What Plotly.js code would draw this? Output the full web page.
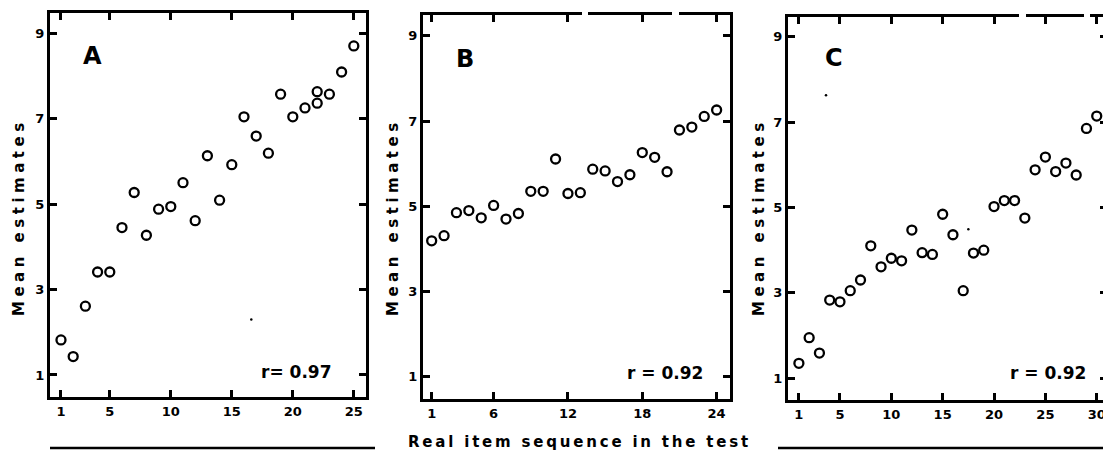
<!DOCTYPE html>
<html>
<head>
<meta charset="utf-8">
<script src="https://cdn.plot.ly/plotly-3.0.1.min.js"></script>
<style>
  html, body { margin:0; padding:0; background:#fff; overflow:hidden; }
  #wrap { width:1103px; height:459px; overflow:hidden; }
  #plot { width:1115px; height:459px; }
  text[data-unformatted="Mean estimates"] { letter-spacing:4.5px; }
  text[data-unformatted="Real item sequence in the test"] { letter-spacing:2.8px; }
</style>
</head>
<body>
<div id="wrap"><div id="plot"></div></div>
<script>
// ---- data ----
const xA = [1,2,3,4,5,6,7,8,9,10,11,12,13,14,15,16,17,18,19,20,21,22,22,23,24,25];
const yA = [1.82,1.43,2.61,3.41,3.41,4.45,5.27,4.27,4.88,4.94,5.50,4.61,6.13,5.09,5.92,7.04,6.59,6.19,7.57,7.04,7.25,7.63,7.36,7.57,8.09,8.70];

const xB = [1,2,3,4,5,6,7,8,9,10,11,12,13,14,15,16,17,18,19,20,21,22,23,24];
const yB = [4.19,4.31,4.85,4.90,4.73,5.02,4.70,4.83,5.35,5.35,6.11,5.30,5.32,5.87,5.83,5.58,5.74,6.26,6.15,5.81,6.79,6.86,7.11,7.26];

const xC = [1,2,3,4,5,6,7,8,9,10,11,12,13,14,15,16,17,18,19,20,21,22,23,24,25,26,27,28,29,30];
const yC = [1.35,1.95,1.59,2.83,2.79,3.05,3.30,4.10,3.61,3.81,3.75,4.47,3.94,3.90,4.84,4.36,3.05,3.93,4.00,5.02,5.16,5.16,4.75,5.88,6.18,5.84,6.04,5.76,6.85,7.14];

// small print specks visible on the original figure
const speckAx = [16.6], speckAy = [2.30];
const speckCx = [3.64, 17.5], speckCy = [7.63, 4.49];

const yTicks = [1,3,5,7,9];
const xTicksA = [1,5,10,15,20,25];
const xTicksB = [1,6,12,18,24];
const xTicksC = [1,5,10,15,20,25,30];

const panelLabels = ['A','B','C'];
const rLabels = ['r= 0.97','r = 0.92','r = 0.92'];
const yTitle = 'Mean estimates';
const xTitle = 'Real item sequence in the test';

// ---- layout helpers ----
const W = 1115, H = 459;
const fx = p => p / W;
const fy = p => 1 - p / H;
const FONT = 'DejaVu Sans, Liberation Sans, Arial, sans-serif';

function pts(x, y, xa, ya) {
  return {x:x, y:y, xaxis:xa, yaxis:ya, type:'scatter', mode:'markers', hoverinfo:'skip',
    marker:{symbol:'circle-open', size:9, color:'#000', line:{width:2.3, color:'#000'}}};
}
function specks(x, y, xa, ya) {
  return {x:x, y:y, xaxis:xa, yaxis:ya, type:'scatter', mode:'markers', hoverinfo:'skip',
    marker:{symbol:'circle', size:2.5, color:'#000'}};
}
function xax(dom, range, vals, anchor) {
  return {domain:dom, range:range, anchor:anchor, tickmode:'array', tickvals:vals, ticktext:vals.map(String),
    ticks:'inside', ticklen:7, tickwidth:3, tickcolor:'#000',
    showline:true, linewidth:3, linecolor:'#000', mirror:'ticks',
    showgrid:false, zeroline:false, fixedrange:true,
    tickfont:{family:FONT, size:13, weight:700, color:'#000'}};
}
function yax(dom, range, anchor) {
  return {domain:dom, range:range, anchor:anchor, tickmode:'array', tickvals:yTicks, ticktext:yTicks.map(String),
    ticks:'inside', ticklen:7, tickwidth:3, tickcolor:'#000',
    showline:true, linewidth:3, linecolor:'#000', mirror:'ticks',
    showgrid:false, zeroline:false, fixedrange:true,
    tickfont:{family:FONT, size:13, weight:700, color:'#000'}};
}

const data = [
  pts(xA, yA, 'x', 'y'), specks(speckAx, speckAy, 'x', 'y'),
  pts(xB, yB, 'x2', 'y2'),
  pts(xC, yC, 'x3', 'y3'), specks(speckCx, speckCy, 'x3', 'y3')
];

function ann(text, px, py, size, extra) {
  return Object.assign({text:text, xref:'paper', yref:'paper', x:fx(px), y:fy(py),
    xanchor:'center', yanchor:'middle', showarrow:false,
    font:{family:FONT, size:size, weight:700, color:'#000'}}, extra || {});
}

const annotations = [
  ann(panelLabels[0], 92, 56, 24),
  ann(panelLabels[1], 465, 59, 24),
  ann(panelLabels[2], 834, 58, 24),
  ann(rLabels[0], 296, 372, 17),
  ann(rLabels[1], 665, 373, 17),
  ann(rLabels[2], 1048, 373, 17),
  ann(yTitle, 19, 217, 15, {textangle:-90}),
  ann(yTitle, 393, 217, 15, {textangle:-90}),
  ann(yTitle, 759, 217, 15, {textangle:-90}),
  ann(xTitle, 579, 442, 15)
];

function gap(x0, x1, y) {
  return {type:'rect', xref:'paper', yref:'paper', x0:fx(x0), x1:fx(x1), y0:fy(y+3), y1:fy(y-3),
    fillcolor:'#fff', line:{width:0}, layer:'above'};
}
const shapes = [
  {type:'line', xref:'paper', yref:'paper', x0:fx(50), x1:fx(375), y0:fy(448), y1:fy(448), line:{color:'#000', width:2.5}},
  {type:'line', xref:'paper', yref:'paper', x0:fx(778), x1:fx(1110), y0:fy(448), y1:fy(448), line:{color:'#000', width:2.5}},
  gap(582, 588, 15), gap(672, 679, 15), gap(1019, 1026, 17), gap(1084, 1090, 17)
];

const layout = {
  width:W, height:H, margin:{l:0, r:0, t:0, b:0},
  paper_bgcolor:'#fff', plot_bgcolor:'#fff', showlegend:false,
  xaxis: xax([fx(50), fx(366)], [0.1, 26.0], xTicksA, 'y'),
  yaxis: yax([fy(397), fy(13)], [0.485, 9.47], 'x'),
  xaxis2: xax([fx(423), fx(730)], [0.3, 25.08], xTicksB, 'y2'),
  yaxis2: yax([fy(399), fy(15)], [0.476, 9.49], 'x2'),
  xaxis3: xax([fx(788), fx(1107)], [-0.06, 31.0], xTicksC, 'y3'),
  yaxis3: yax([fy(400), fy(17)], [0.49, 9.46], 'x3'),
  annotations: annotations,
  shapes: shapes
};

Plotly.newPlot('plot', data, layout, {displayModeBar:false, staticPlot:true});
</script>
</body>
</html>
